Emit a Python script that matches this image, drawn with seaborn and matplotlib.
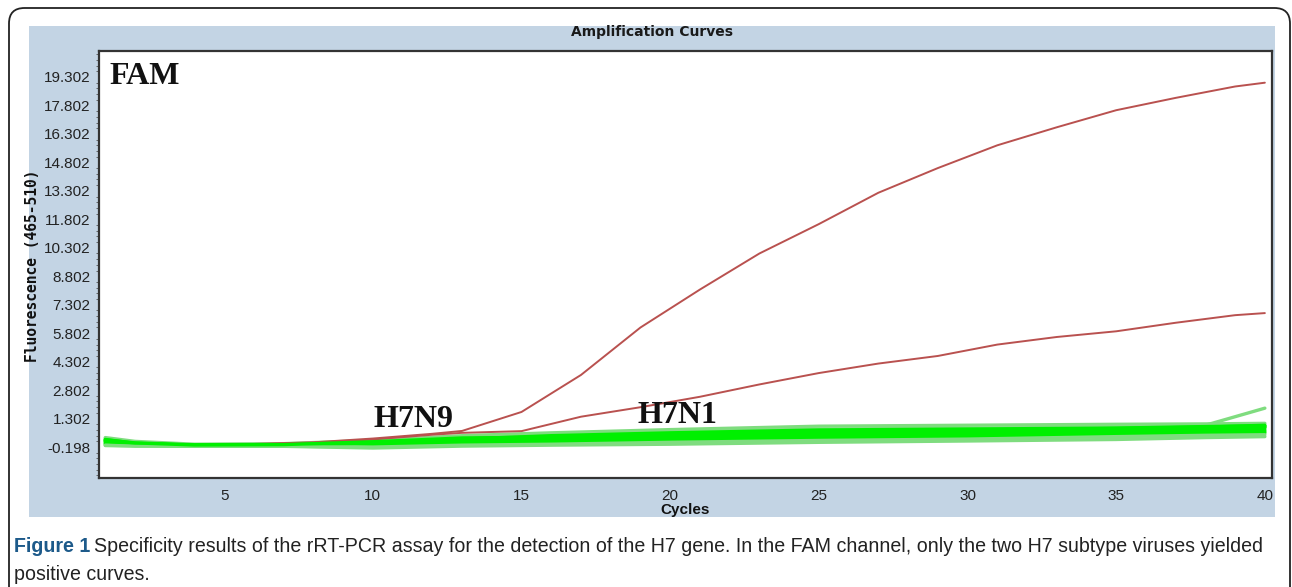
import matplotlib
matplotlib.use("Agg")
import matplotlib.pyplot as plt
from matplotlib.patches import Rectangle, FancyBboxPatch
from matplotlib.ticker import FixedLocator
import seaborn as sns

# ---- data -------------------------------------------------------------
# Positive wells (H7 subtype viruses), fluorescence per cycle
pos_cycles = [1, 2, 3, 5, 8, 10, 12, 13, 15, 17, 19, 21, 23, 25, 27, 29, 31, 33, 35, 37, 39, 40]
h7n9 = [0.15, -0.02, -0.10, -0.08, 0.05, 0.25, 0.50, 0.65, 1.65, 3.60, 6.10, 8.10,
        10.00, 11.55, 13.20, 14.50, 15.70, 16.65, 17.55, 18.20, 18.80, 19.00]
h7n1 = [0.10, -0.05, -0.12, -0.10, 0.02, 0.20, 0.45, 0.55, 0.64, 1.40, 1.90, 2.45,
        3.10, 3.70, 4.20, 4.60, 5.20, 5.60, 5.90, 6.35, 6.75, 6.86]

# Negative wells (non-H7 viruses and controls)
neg_cycles = [1, 2, 4, 7, 10, 13, 16, 20, 25, 30, 35, 38, 40]
neg_wells = [
    [0.25, 0.05, -0.08, -0.05, 0.10, 0.30, 0.45, 0.60, 0.75, 0.80, 0.85, 0.95, 1.85],
    [0.30, 0.10, -0.05, -0.02, 0.15, 0.40, 0.55, 0.72, 0.90, 0.95, 1.00, 1.02, 1.05],
    [0.20, 0.00, -0.10, -0.08, 0.05, 0.20, 0.35, 0.50, 0.65, 0.70, 0.78, 0.85, 0.95],
    [0.15, -0.02, -0.10, -0.10, 0.00, 0.15, 0.25, 0.40, 0.55, 0.62, 0.70, 0.78, 0.85],
    [0.10, -0.05, -0.12, -0.10, -0.05, 0.10, 0.20, 0.30, 0.45, 0.55, 0.62, 0.70, 0.80],
    [0.05, -0.08, -0.12, -0.12, -0.10, 0.05, 0.15, 0.25, 0.35, 0.45, 0.55, 0.62, 0.70],
    [0.00, -0.10, -0.13, -0.13, -0.12, 0.00, 0.10, 0.18, 0.28, 0.38, 0.48, 0.55, 0.62],
    [-0.05, -0.12, -0.14, -0.14, -0.15, -0.05, 0.05, 0.12, 0.22, 0.30, 0.42, 0.50, 0.55],
    [-0.10, -0.13, -0.15, -0.15, -0.20, -0.10, -0.05, 0.05, 0.15, 0.22, 0.35, 0.42, 0.45],
    [0.12, -0.03, -0.11, -0.09, 0.02, 0.22, 0.40, 0.55, 0.70, 0.75, 0.80, 0.88, 0.92],
    [-0.12, -0.15, -0.15, -0.16, -0.25, -0.15, -0.10, -0.05, 0.05, 0.12, 0.20, 0.30, 0.35],
    [0.18, 0.02, -0.09, -0.07, 0.08, 0.28, 0.32, 0.45, 0.60, 0.65, 0.72, 0.80, 0.88],
]
neg_shades = ["#7fdc7f", "#7fdc7f", "#00f000", "#00f000", "#00f000", "#00f000",
              "#00f000", "#00f000", "#7fdc7f", "#00f000", "#7fdc7f", "#00f000"]

y_ticks = [-0.198 + 1.5 * k for k in range(14)]
x_ticks = [5, 10, 15, 20, 25, 30, 35, 40]

# ---- figure -----------------------------------------------------------
sns.set_style("white")
plt.rcParams["font.family"] = ["Liberation Sans", "DejaVu Sans"]

W, H = 1292, 587
fig = plt.figure(figsize=(W / 100, H / 100), dpi=100, facecolor="white")

# outer rounded frame (open at the bottom)
frame = FancyBboxPatch((9 / W, -0.05), (1290 - 9) / W, (H - 8) / H + 0.05,
                       boxstyle="round,pad=0,rounding_size=0.012",
                       transform=fig.transFigure, facecolor="none",
                       edgecolor="#222222", lw=1.3, mutation_aspect=W / H, zorder=-5)
fig.patches.append(frame)

# light blue instrument panel
panel = Rectangle((29 / W, 1 - 517 / H), (1275 - 29) / W, (517 - 26) / H,
                  transform=fig.transFigure, facecolor="#c3d4e4", edgecolor="none",
                  zorder=-10)
fig.patches.append(panel)

ax = fig.add_axes([99 / W, 1 - 478 / H, (1272 - 99) / W, (478 - 51) / H])
ax.set_facecolor("white")

half = len(neg_wells) // 2
for well, shade in zip(neg_wells[:half], neg_shades[:half]):
    sns.lineplot(x=neg_cycles, y=well, ax=ax, color=shade, lw=2.4, zorder=2)
for vals in (h7n9, h7n1):
    sns.lineplot(x=pos_cycles, y=vals, ax=ax, color="#b9514f", lw=1.4, zorder=3)
for well, shade in zip(neg_wells[half:], neg_shades[half:]):
    sns.lineplot(x=neg_cycles, y=well, ax=ax, color=shade, lw=2.4, zorder=4)

ax.set_xlim(0.79, 40.24)
ax.set_ylim(-1.83, 20.67)

ax.yaxis.set_major_locator(FixedLocator(y_ticks))
ax.set_yticklabels([f"{v:.3f}" for v in y_ticks])
ax.yaxis.set_minor_locator(FixedLocator([-0.198 + 0.3 * k for k in range(-5, 70)]))
ax.xaxis.set_major_locator(FixedLocator(x_ticks))
ax.set_xticklabels([str(v) for v in x_ticks])

ax.tick_params(axis="both", which="major", direction="out", length=5, width=0.8,
               colors="#333333", labelsize=11, labelcolor="#222222", pad=1)
ax.tick_params(axis="y", which="minor", direction="out", length=2.5, width=0.6,
               colors="#555555", left=True)
ax.tick_params(axis="x", which="major", pad=3)

for side, sp in ax.spines.items():
    sp.set_visible(True)
    sp.set_color("#333333")
    sp.set_linewidth(1.6)

ax.set_xlabel("Cycles", fontsize=11, fontweight="bold", color="#111111", labelpad=0)
ax.set_ylabel("Fluorescence (465-510)", fontsize=10.5, fontweight="bold",
              family="DejaVu Sans Mono", color="#111111")
ax.yaxis.set_label_coords(-0.0503, 0.4965)

fig.text(652 / W, 1 - 32 / H, "Amplification Curves", ha="center", va="center",
         fontsize=10, fontweight="bold", color="#1a1a1a", family="DejaVu Sans")

serif = ["Liberation Serif", "DejaVu Serif"]
ax.text(0.0085, 0.975, "FAM", transform=ax.transAxes, ha="left", va="top",
        fontsize=23, fontweight="bold", family=serif, color="#111111")
ax.text(11.36, 1.25, "H7N9", ha="center", va="center", fontsize=23,
        fontweight="bold", family=serif, color="#111111", zorder=6)
ax.text(20.25, 1.45, "H7N1", ha="center", va="center", fontsize=23,
        fontweight="bold", family=serif, color="#111111", zorder=6)

# caption, two lines; body text placed right after the bold label
cap_size = 14.1
cap_y1 = 1 - 546 / H
label = fig.text(14 / W, cap_y1, "Figure 1", ha="left", va="center", fontsize=cap_size,
                 fontweight="bold", color="#1d5a8a")
fig.canvas.draw()
bb = label.get_window_extent(renderer=fig.canvas.get_renderer())
fig.text((bb.x1 + 4) / W, cap_y1,
         "Specificity results of the rRT-PCR assay for the detection of the H7 gene. "
         "In the FAM channel, only the two H7 subtype viruses yielded",
         ha="left", va="center", fontsize=cap_size, color="#222222")
fig.text(14 / W, 1 - 574 / H, "positive curves.", ha="left", va="center",
         fontsize=cap_size, color="#222222")

fig.savefig("out.png", dpi=100, facecolor="white")
